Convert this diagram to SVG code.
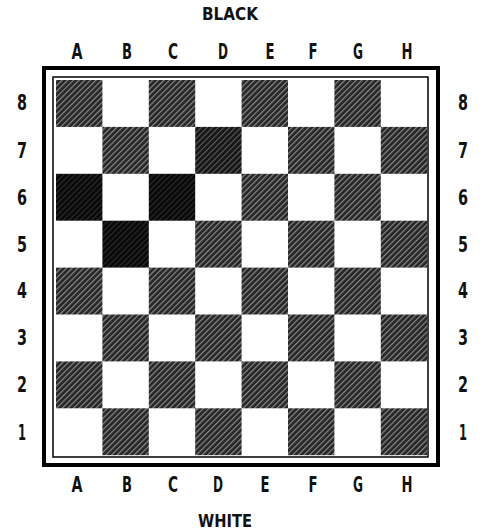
<svg xmlns="http://www.w3.org/2000/svg" width="483" height="532" viewBox="0 0 483 532">
<style>
.lbl{font-family:"DejaVu Sans","Liberation Sans",sans-serif;font-weight:bold;font-size:21px;fill:#111;text-anchor:middle}
.ttl{font-family:"DejaVu Sans","Liberation Sans",sans-serif;font-weight:bold;font-size:18px;fill:#111;text-anchor:middle}
.d{fill:url(#hatch)}
.dd{fill:url(#hatch2)}
.dm{fill:url(#hatch3)}
</style>
<defs>
<pattern id="hatch" patternUnits="userSpaceOnUse" width="4" height="4" patternTransform="rotate(45)">
<rect width="4" height="4" fill="#262626"/>
<rect x="0" y="0" width="1.2" height="4" fill="#8a8a8a"/>
</pattern>
<pattern id="hatch2" patternUnits="userSpaceOnUse" width="4" height="4" patternTransform="rotate(45)">
<rect width="4" height="4" fill="#0a0a0a"/>
<rect x="0" y="0" width="0.6" height="4" fill="#444"/>
</pattern>
<pattern id="hatch3" patternUnits="userSpaceOnUse" width="4" height="4" patternTransform="rotate(45)">
<rect width="4" height="4" fill="#181818"/>
<rect x="0" y="0" width="0.9" height="4" fill="#666"/>
</pattern>
</defs>
<rect width="483" height="532" fill="#fff"/>
<g id="board">
<rect x="44" y="68" width="394" height="397" fill="none" stroke="#000" stroke-width="4"/>
<rect x="53" y="77" width="375" height="380" fill="none" stroke="#000" stroke-width="1.5"/>
</g>
<g id="squares">
<rect class="d" x="56" y="80" width="46.4" height="46.9"/>
<rect class="d" x="148.8" y="80" width="46.4" height="46.9"/>
<rect class="d" x="241.6" y="80" width="46.4" height="46.9"/>
<rect class="d" x="334.4" y="80" width="46.4" height="46.9"/>
<rect class="d" x="102.4" y="126.9" width="46.4" height="46.9"/>
<rect class="dm" x="195.2" y="126.9" width="46.4" height="46.9"/>
<rect class="d" x="288" y="126.9" width="46.4" height="46.9"/>
<rect class="d" x="380.8" y="126.9" width="46.4" height="46.9"/>
<rect class="dd" x="56" y="173.8" width="46.4" height="46.9"/>
<rect class="dd" x="148.8" y="173.8" width="46.4" height="46.9"/>
<rect class="d" x="241.6" y="173.8" width="46.4" height="46.9"/>
<rect class="d" x="334.4" y="173.8" width="46.4" height="46.9"/>
<rect class="dd" x="102.4" y="220.7" width="46.4" height="46.9"/>
<rect class="d" x="195.2" y="220.7" width="46.4" height="46.9"/>
<rect class="d" x="288" y="220.7" width="46.4" height="46.9"/>
<rect class="d" x="380.8" y="220.7" width="46.4" height="46.9"/>
<rect class="d" x="56" y="267.6" width="46.4" height="46.9"/>
<rect class="d" x="148.8" y="267.6" width="46.4" height="46.9"/>
<rect class="d" x="241.6" y="267.6" width="46.4" height="46.9"/>
<rect class="d" x="334.4" y="267.6" width="46.4" height="46.9"/>
<rect class="d" x="102.4" y="314.5" width="46.4" height="46.9"/>
<rect class="d" x="195.2" y="314.5" width="46.4" height="46.9"/>
<rect class="d" x="288" y="314.5" width="46.4" height="46.9"/>
<rect class="d" x="380.8" y="314.5" width="46.4" height="46.9"/>
<rect class="d" x="56" y="361.4" width="46.4" height="46.9"/>
<rect class="d" x="148.8" y="361.4" width="46.4" height="46.9"/>
<rect class="d" x="241.6" y="361.4" width="46.4" height="46.9"/>
<rect class="d" x="334.4" y="361.4" width="46.4" height="46.9"/>
<rect class="d" x="102.4" y="408.3" width="46.4" height="46.9"/>
<rect class="d" x="195.2" y="408.3" width="46.4" height="46.9"/>
<rect class="d" x="288" y="408.3" width="46.4" height="46.9"/>
<rect class="d" x="380.8" y="408.3" width="46.4" height="46.9"/>
</g>
<g id="titles">
<text class="ttl" x="230" y="20" textLength="56" lengthAdjust="spacingAndGlyphs">BLACK</text>
<text class="ttl" x="225" y="527" textLength="54" lengthAdjust="spacingAndGlyphs">WHITE</text>
</g>
<g id="col-top">
<text class="lbl" x="77" y="59" textLength="11" lengthAdjust="spacingAndGlyphs">A</text>
<text class="lbl" x="127" y="59" textLength="10" lengthAdjust="spacingAndGlyphs">B</text>
<text class="lbl" x="173" y="59" textLength="10" lengthAdjust="spacingAndGlyphs">C</text>
<text class="lbl" x="223" y="59" textLength="10" lengthAdjust="spacingAndGlyphs">D</text>
<text class="lbl" x="270" y="59" textLength="9" lengthAdjust="spacingAndGlyphs">E</text>
<text class="lbl" x="313" y="59" textLength="9" lengthAdjust="spacingAndGlyphs">F</text>
<text class="lbl" x="358" y="59" textLength="10" lengthAdjust="spacingAndGlyphs">G</text>
<text class="lbl" x="407" y="59" textLength="11" lengthAdjust="spacingAndGlyphs">H</text>
</g>
<g id="col-bottom">
<text class="lbl" x="77" y="492" textLength="11" lengthAdjust="spacingAndGlyphs">A</text>
<text class="lbl" x="127" y="492" textLength="10" lengthAdjust="spacingAndGlyphs">B</text>
<text class="lbl" x="173" y="492" textLength="10" lengthAdjust="spacingAndGlyphs">C</text>
<text class="lbl" x="218" y="492" textLength="10" lengthAdjust="spacingAndGlyphs">D</text>
<text class="lbl" x="265" y="492" textLength="9" lengthAdjust="spacingAndGlyphs">E</text>
<text class="lbl" x="313" y="492" textLength="9" lengthAdjust="spacingAndGlyphs">F</text>
<text class="lbl" x="358" y="492" textLength="10" lengthAdjust="spacingAndGlyphs">G</text>
<text class="lbl" x="407" y="492" textLength="11" lengthAdjust="spacingAndGlyphs">H</text>
</g>
<g id="row-left">
<text class="lbl" x="22" y="110" textLength="10" lengthAdjust="spacingAndGlyphs">8</text>
<text class="lbl" x="22" y="158" textLength="10" lengthAdjust="spacingAndGlyphs">7</text>
<text class="lbl" x="22" y="205" textLength="10" lengthAdjust="spacingAndGlyphs">6</text>
<text class="lbl" x="22" y="252" textLength="10" lengthAdjust="spacingAndGlyphs">5</text>
<text class="lbl" x="22" y="298" textLength="10" lengthAdjust="spacingAndGlyphs">4</text>
<text class="lbl" x="22" y="345" textLength="10" lengthAdjust="spacingAndGlyphs">3</text>
<text class="lbl" x="22" y="392" textLength="10" lengthAdjust="spacingAndGlyphs">2</text>
<text class="lbl" x="22" y="440" textLength="8" lengthAdjust="spacingAndGlyphs">1</text>
</g>
<g id="row-right">
<text class="lbl" x="463" y="110" textLength="10" lengthAdjust="spacingAndGlyphs">8</text>
<text class="lbl" x="463" y="158" textLength="10" lengthAdjust="spacingAndGlyphs">7</text>
<text class="lbl" x="463" y="205" textLength="10" lengthAdjust="spacingAndGlyphs">6</text>
<text class="lbl" x="463" y="252" textLength="10" lengthAdjust="spacingAndGlyphs">5</text>
<text class="lbl" x="463" y="298" textLength="10" lengthAdjust="spacingAndGlyphs">4</text>
<text class="lbl" x="463" y="345" textLength="10" lengthAdjust="spacingAndGlyphs">3</text>
<text class="lbl" x="463" y="392" textLength="10" lengthAdjust="spacingAndGlyphs">2</text>
<text class="lbl" x="463" y="440" textLength="8" lengthAdjust="spacingAndGlyphs">1</text>
</g>
</svg>
